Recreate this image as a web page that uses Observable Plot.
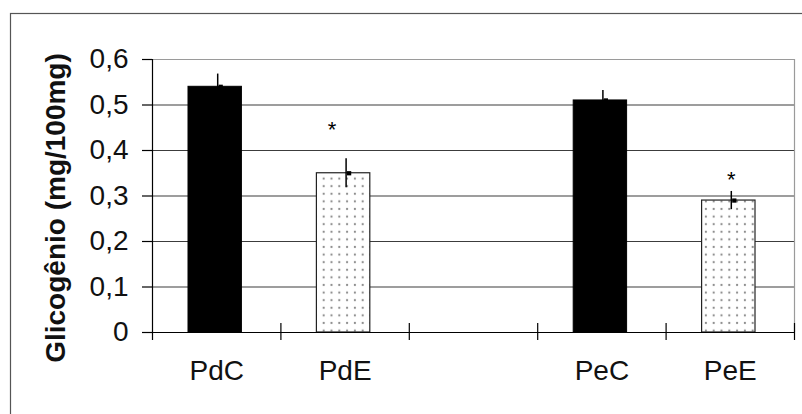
<!DOCTYPE html>
<html>
<head>
<meta charset="utf-8">
<script src="https://cdn.jsdelivr.net/npm/d3@7"></script>
<script src="https://cdn.jsdelivr.net/npm/@observablehq/plot@0.6"></script>
<style>
  body { margin: 0; background: #fff; }
  #chart svg { display: block; }
</style>
</head>
<body>
<div id="chart"></div>
<script>
// Glycogen content per group; the third slot is an empty spacer between Pd and Pe.
const categories = ["PdC", "PdE", "", "PeC", "PeE"];
const groups = ["C", "E", null, "C", "E"];
const means = [0.54, 0.35, null, 0.51, 0.29];
const errors = [0.028, 0.032, null, 0.022, 0.02];
const starHeights = [null, 0.458, null, null, 0.348];
const yTicks = [0, 0.1, 0.2, 0.3, 0.4, 0.5, 0.6];
const gridValues = [0.1, 0.2, 0.3, 0.4, 0.5];
const yLabel = "Glicogênio (mg/100mg)";

const rows = categories
  .map((name, i) => ({name, i, group: groups[i], mean: means[i], err: errors[i], star: starHeights[i]}))
  .filter(d => d.mean != null);
const slotEdges = d3.range(categories.length + 1);

const fmt = d => d === 0 ? "0" : d.toFixed(1).replace(".", ",");
const font = "'Liberation Sans', Arial, Helvetica, sans-serif";

const chart = Plot.plot({
  width: 802,
  height: 414,
  marginLeft: 152,
  marginRight: 8,
  marginTop: 59,
  marginBottom: 82,
  style: {fontFamily: font, color: "#000", background: "#fff"},
  x: {type: "linear", domain: [0, categories.length], axis: null},
  y: {domain: [0, 0.6], axis: null},
  marks: [
    // horizontal gridlines
    Plot.ruleY(gridValues, {x1: 0, x2: categories.length, stroke: "#3c3c3c", strokeWidth: 1.2}),
    // plot area border (top and right)
    Plot.ruleY([0.6], {x1: 0, x2: categories.length, stroke: "#9a9a9a", strokeWidth: 1.2}),
    Plot.ruleX([categories.length], {y1: 0.6, y2: 0, stroke: "#9a9a9a", strokeWidth: 1.2}),
    // bars
    Plot.rectY(rows.filter(d => d.group === "C"), {
      x1: d => d.i, x2: d => d.i + 1, y1: 0, y2: "mean",
      insetLeft: 36, insetRight: 39, fill: "#000", stroke: "#000"
    }),
    Plot.rectY(rows.filter(d => d.group === "E"), {
      x1: d => d.i, x2: d => d.i + 1, y1: 0, y2: "mean",
      insetLeft: 36, insetRight: 39, fill: "url(#dots)", stroke: "#222", strokeWidth: 1.2
    }),
    // error bars
    Plot.ruleX(rows, {
      x: d => d.i + 0.5, y1: d => d.mean + d.err, y2: d => d.mean - d.err,
      dx: 1, stroke: "#000", strokeWidth: 1.5
    }),
    Plot.dot(rows, {
      x: d => d.i + 0.5, y: "mean", symbol: "square", r: 2.4, dx: 4,
      fill: "#000", stroke: null
    }),
    // significance marks
    Plot.text(rows.filter(d => d.name === "PdE"), {
      x: d => d.i + 0.5, y: "star", text: () => "*", fontSize: 22, dx: -13, dy: 5.5
    }),
    Plot.text(rows.filter(d => d.name === "PeE"), {
      x: d => d.i + 0.5, y: "star", text: () => "*", fontSize: 22, dx: 1, dy: 5.5
    }),
    // value axis: line, ticks and labels
    Plot.ruleX([0], {y1: 0.6, y2: 0, insetBottom: -8, stroke: "#000", strokeWidth: 1.2}),
    Plot.ruleY(yTicks, {x1: 0, x2: 0, insetLeft: -10, stroke: "#000", strokeWidth: 1.2}),
    Plot.text(yTicks, {
      x: () => 0, y: d => d, text: fmt, textAnchor: "end", dx: -24, fontSize: 28, fill: "#111"
    }),
    // category axis: line, boundary ticks and labels
    Plot.ruleY([0], {x1: 0, x2: categories.length, insetLeft: -10, stroke: "#000", strokeWidth: 1.2}),
    Plot.ruleX(slotEdges.slice(1), {y1: 0, y2: 0, insetTop: -9, insetBottom: -8, stroke: "#000", strokeWidth: 1.2}),
    Plot.text(rows, {
      x: d => d.i + 0.5, y: () => 0, text: "name", dy: 39, fontSize: 28, fill: "#111"
    }),
    // value axis title
    Plot.text([yLabel], {
      frameAnchor: "left", textAnchor: "middle", lineAnchor: "middle",
      dx: -96, dy: 12, rotate: -90,
      fontSize: 28, fontWeight: "bold", fill: "#111"
    })
  ]
});

// dotted fill used by the E bars
const svg = d3.select(chart);
const defs = svg.insert("defs", ":first-child");
const pat = defs.append("pattern")
  .attr("id", "dots")
  .attr("patternUnits", "userSpaceOnUse")
  .attr("width", 7.8)
  .attr("height", 7.6);
pat.append("rect").attr("width", 7.8).attr("height", 7.6).attr("fill", "#fff");
pat.append("circle").attr("cx", 3.9).attr("cy", 3.8).attr("r", 1.1).attr("fill", "#888");

// chart area border
svg.append("rect")
  .attr("x", 10.5).attr("y", 13.5)
  .attr("width", 800).attr("height", 410)
  .attr("fill", "none").attr("stroke", "#555").attr("stroke-width", 1.2);

document.getElementById("chart").appendChild(chart);
</script>
</body>
</html>
